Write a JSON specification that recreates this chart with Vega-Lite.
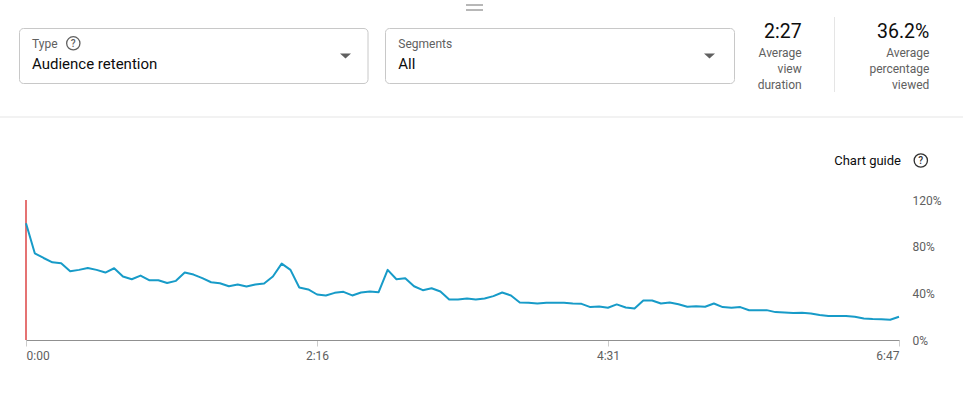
{
  "$schema": "https://vega.github.io/schema/vega-lite/v6.json",
  "width": 873,
  "height": 140,
  "autosize": {"type": "none"},
  "padding": {"left": 26, "top": 200, "right": 64, "bottom": 63},
  "background": "white",
  "config": {"view": {"stroke": null}, "font": "Roboto", "text": {"font": "Roboto"}},
  "layer": [
    {
      "data": {"values": [
        {"t":0,"r":100},{"t":4.1,"r":74.3},{"t":8.2,"r":70.3},{"t":12.3,"r":66.6},{"t":16.4,"r":65.8},
        {"t":20.6,"r":58.9},{"t":24.7,"r":60.1},{"t":28.8,"r":61.8},{"t":32.9,"r":60.1},{"t":37.0,"r":57.8},
        {"t":41.1,"r":61.5},{"t":45.2,"r":54.4},{"t":49.3,"r":52.1},{"t":53.4,"r":55.2},{"t":57.6,"r":51.2},
        {"t":61.7,"r":51.2},{"t":65.8,"r":48.8},{"t":69.9,"r":50.7},{"t":74.0,"r":57.8},{"t":78.1,"r":56.1},
        {"t":82.2,"r":53.0},{"t":86.3,"r":49.5},{"t":90.4,"r":48.7},{"t":94.6,"r":46.1},{"t":98.7,"r":47.5},
        {"t":102.8,"r":45.8},{"t":106.9,"r":47.5},{"t":111.0,"r":48.4},{"t":115.1,"r":54.4},{"t":119.2,"r":65.5},
        {"t":123.3,"r":60.1},{"t":127.4,"r":45.0},{"t":131.6,"r":43.3},{"t":135.7,"r":39.0},{"t":139.8,"r":38.2},
        {"t":143.9,"r":40.4},{"t":148.0,"r":41.3},{"t":152.1,"r":38.2},{"t":156.2,"r":40.7},{"t":160.3,"r":41.6},
        {"t":164.4,"r":41.0},{"t":168.6,"r":60.1},{"t":172.7,"r":52.1},{"t":176.8,"r":53.0},{"t":180.9,"r":46.1},
        {"t":185.0,"r":42.7},{"t":189.1,"r":44.4},{"t":193.2,"r":41.6},{"t":197.3,"r":34.7},{"t":201.4,"r":34.7},
        {"t":205.6,"r":35.6},{"t":209.7,"r":34.7},{"t":213.8,"r":35.6},{"t":217.9,"r":37.6},{"t":222.0,"r":40.7},
        {"t":226.1,"r":38.2},{"t":230.2,"r":32.2},{"t":234.3,"r":31.9},{"t":238.4,"r":31.3},{"t":242.6,"r":31.9},
        {"t":246.7,"r":31.9},{"t":250.8,"r":31.9},{"t":254.9,"r":31.3},{"t":259.0,"r":31.0},{"t":263.1,"r":28.2},
        {"t":267.2,"r":28.8},{"t":271.3,"r":27.6},{"t":275.4,"r":30.5},{"t":279.6,"r":27.9},{"t":283.7,"r":27.0},
        {"t":287.8,"r":33.9},{"t":291.9,"r":33.9},{"t":296.0,"r":31.3},{"t":300.1,"r":32.2},{"t":304.2,"r":30.7},
        {"t":308.3,"r":28.5},{"t":312.4,"r":29.0},{"t":316.6,"r":28.5},{"t":320.7,"r":31.3},{"t":324.8,"r":28.2},
        {"t":328.9,"r":27.6},{"t":333.0,"r":28.2},{"t":337.1,"r":25.5},{"t":341.2,"r":25.6},{"t":345.3,"r":25.6},
        {"t":349.4,"r":23.9},{"t":353.6,"r":23.6},{"t":357.7,"r":23.1},{"t":361.8,"r":23.3},{"t":365.9,"r":22.8},
        {"t":370.0,"r":21.4},{"t":374.1,"r":20.5},{"t":378.2,"r":20.5},{"t":382.3,"r":20.5},{"t":386.4,"r":19.9},
        {"t":390.6,"r":18.5},{"t":394.7,"r":17.9},{"t":398.8,"r":17.7},{"t":402.9,"r":17.4},{"t":407.0,"r":19.9}
      ]},
      "layer": [
        {
          "mark": {"type": "rule", "color": "#e57373", "strokeWidth": 2},
          "encoding": {
            "x": {"datum": 0, "type": "quantitative"},
            "y": {"datum": 0, "type": "quantitative"},
            "y2": {"datum": 120}
          }
        },
        {
          "mark": {"type": "line", "color": "#179bc8", "strokeWidth": 2, "strokeJoin": "round"},
          "encoding": {
            "x": {
              "field": "t", "type": "quantitative",
              "scale": {"domain": [0, 407], "nice": false, "zero": false},
              "axis": {
                "title": null, "values": [0, 135.667, 271.333, 407],
                "labelExpr": "floor(round(datum.value)/60) + ':' + (round(datum.value)%60 < 10 ? '0' : '') + (round(datum.value)%60)",
                "labelFlush": true, "grid": false, "domainColor": "#909090", "tickColor": "#cccccc",
                "tickSize": 6, "labelPadding": 4, "labelFontSize": 12, "labelColor": "#606060", "labelFont": "Roboto"
              }
            },
            "y": {
              "field": "r", "type": "quantitative",
              "scale": {"domain": [0, 120], "nice": false},
              "axis": {
                "title": null, "orient": "right", "values": [0, 40, 80, 120],
                "labelExpr": "datum.value + '%'", "domain": false, "ticks": false,
                "gridColor": "#e5e5e5", "labelPadding": 13, "labelFontSize": 12,
                "labelColor": "#606060", "labelFont": "Roboto"
              }
            }
          }
        }
      ]
    },
    {
      "data": {"values": [{}]},
      "layer": [
        {"mark": {"type": "rule", "color": "#e5e5e5", "strokeWidth": 1},
         "encoding": {"x": {"datum": 0, "type": "quantitative", "scale": {"domain": [26, 899], "nice": false, "zero": false}, "axis": null},
                      "x2": {"datum": 963},
                      "y": {"datum": 117, "type": "quantitative", "scale": {"domain": [200, 340], "nice": false, "zero": false, "reverse": true}, "axis": null}}},
        {"mark": {"type": "rule", "color": "#707070", "strokeWidth": 1},
         "encoding": {"x": {"datum": 466, "type": "quantitative", "scale": {"domain": [26, 899], "nice": false, "zero": false}, "axis": null},
                      "x2": {"datum": 483},
                      "y": {"datum": 5, "type": "quantitative", "scale": {"domain": [200, 340], "nice": false, "zero": false, "reverse": true}, "axis": null}}},
        {"mark": {"type": "rule", "color": "#707070", "strokeWidth": 1},
         "encoding": {"x": {"datum": 466, "type": "quantitative", "scale": {"domain": [26, 899], "nice": false, "zero": false}, "axis": null},
                      "x2": {"datum": 483},
                      "y": {"datum": 10, "type": "quantitative", "scale": {"domain": [200, 340], "nice": false, "zero": false, "reverse": true}, "axis": null}}},
        {"mark": {"type": "rect", "fill": "white", "stroke": "#c8c8c8", "strokeWidth": 1, "cornerRadius": 4},
         "encoding": {"x": {"datum": 19.5, "type": "quantitative", "scale": {"domain": [26, 899], "nice": false, "zero": false}, "axis": null},
                      "x2": {"datum": 368},
                      "y": {"datum": 28.5, "type": "quantitative", "scale": {"domain": [200, 340], "nice": false, "zero": false, "reverse": true}, "axis": null},
                      "y2": {"datum": 83.5}}},
        {"mark": {"type": "rect", "fill": "white", "stroke": "#c8c8c8", "strokeWidth": 1, "cornerRadius": 4},
         "encoding": {"x": {"datum": 385.5, "type": "quantitative", "scale": {"domain": [26, 899], "nice": false, "zero": false}, "axis": null},
                      "x2": {"datum": 734.5},
                      "y": {"datum": 28.5, "type": "quantitative", "scale": {"domain": [200, 340], "nice": false, "zero": false, "reverse": true}, "axis": null},
                      "y2": {"datum": 83.5}}},
        {"mark": {"type": "rule", "color": "#e5e5e5", "strokeWidth": 1},
         "encoding": {"x": {"datum": 834.5, "type": "quantitative", "scale": {"domain": [26, 899], "nice": false, "zero": false}, "axis": null},
                      "y": {"datum": 17, "type": "quantitative", "scale": {"domain": [200, 340], "nice": false, "zero": false, "reverse": true}, "axis": null},
                      "y2": {"datum": 92}}},
        {"mark": {"type": "text", "text": "Type", "fontSize": 12, "color": "#606060", "align": "left", "baseline": "alphabetic"},
         "encoding": {"x": {"datum": 32, "type": "quantitative", "scale": {"domain": [26, 899], "nice": false, "zero": false}, "axis": null},
                      "y": {"datum": 47.5, "type": "quantitative", "scale": {"domain": [200, 340], "nice": false, "zero": false, "reverse": true}, "axis": null}}},
        {"mark": {"type": "point", "shape": "circle", "size": 177, "filled": false, "stroke": "#606060", "strokeWidth": 1.3, "opacity": 1},
         "encoding": {"x": {"datum": 73.3, "type": "quantitative", "scale": {"domain": [26, 899], "nice": false, "zero": false}, "axis": null},
                      "y": {"datum": 43.3, "type": "quantitative", "scale": {"domain": [200, 340], "nice": false, "zero": false, "reverse": true}, "axis": null}}},
        {"mark": {"type": "text", "text": "?", "fontSize": 10, "fontWeight": 500, "color": "#606060", "align": "center", "baseline": "middle"},
         "encoding": {"x": {"datum": 73.3, "type": "quantitative", "scale": {"domain": [26, 899], "nice": false, "zero": false}, "axis": null},
                      "y": {"datum": 43.6, "type": "quantitative", "scale": {"domain": [200, 340], "nice": false, "zero": false, "reverse": true}, "axis": null}}},
        {"mark": {"type": "text", "text": "Audience retention", "fontSize": 15, "color": "#0d0d0d", "align": "left", "baseline": "alphabetic"},
         "encoding": {"x": {"datum": 32, "type": "quantitative", "scale": {"domain": [26, 899], "nice": false, "zero": false}, "axis": null},
                      "y": {"datum": 69, "type": "quantitative", "scale": {"domain": [200, 340], "nice": false, "zero": false, "reverse": true}, "axis": null}}},
        {"mark": {"type": "point", "shape": "M-1,-0.45L1,-0.45L0,0.45Z", "size": 121, "filled": true, "color": "#606060", "opacity": 1},
         "encoding": {"x": {"datum": 345.5, "type": "quantitative", "scale": {"domain": [26, 899], "nice": false, "zero": false}, "axis": null},
                      "y": {"datum": 56, "type": "quantitative", "scale": {"domain": [200, 340], "nice": false, "zero": false, "reverse": true}, "axis": null}}},
        {"mark": {"type": "text", "text": "Segments", "fontSize": 12, "color": "#606060", "align": "left", "baseline": "alphabetic"},
         "encoding": {"x": {"datum": 398.3, "type": "quantitative", "scale": {"domain": [26, 899], "nice": false, "zero": false}, "axis": null},
                      "y": {"datum": 47.5, "type": "quantitative", "scale": {"domain": [200, 340], "nice": false, "zero": false, "reverse": true}, "axis": null}}},
        {"mark": {"type": "text", "text": "All", "fontSize": 15, "color": "#0d0d0d", "align": "left", "baseline": "alphabetic"},
         "encoding": {"x": {"datum": 398.3, "type": "quantitative", "scale": {"domain": [26, 899], "nice": false, "zero": false}, "axis": null},
                      "y": {"datum": 69, "type": "quantitative", "scale": {"domain": [200, 340], "nice": false, "zero": false, "reverse": true}, "axis": null}}},
        {"mark": {"type": "point", "shape": "M-1,-0.45L1,-0.45L0,0.45Z", "size": 121, "filled": true, "color": "#606060", "opacity": 1},
         "encoding": {"x": {"datum": 709.5, "type": "quantitative", "scale": {"domain": [26, 899], "nice": false, "zero": false}, "axis": null},
                      "y": {"datum": 56, "type": "quantitative", "scale": {"domain": [200, 340], "nice": false, "zero": false, "reverse": true}, "axis": null}}},
        {"mark": {"type": "text", "text": "2:27", "fontSize": 19.5, "color": "#0d0d0d", "align": "right", "baseline": "alphabetic"},
         "encoding": {"x": {"datum": 801.7, "type": "quantitative", "scale": {"domain": [26, 899], "nice": false, "zero": false}, "axis": null},
                      "y": {"datum": 38.3, "type": "quantitative", "scale": {"domain": [200, 340], "nice": false, "zero": false, "reverse": true}, "axis": null}}},
        {"mark": {"type": "text", "text": ["Average", "view", "duration"], "lineHeight": 16, "fontSize": 12, "color": "#606060", "align": "right", "baseline": "alphabetic"},
         "encoding": {"x": {"datum": 801.7, "type": "quantitative", "scale": {"domain": [26, 899], "nice": false, "zero": false}, "axis": null},
                      "y": {"datum": 57.3, "type": "quantitative", "scale": {"domain": [200, 340], "nice": false, "zero": false, "reverse": true}, "axis": null}}},
        {"mark": {"type": "text", "text": "36.2%", "fontSize": 19.5, "color": "#0d0d0d", "align": "right", "baseline": "alphabetic"},
         "encoding": {"x": {"datum": 929.3, "type": "quantitative", "scale": {"domain": [26, 899], "nice": false, "zero": false}, "axis": null},
                      "y": {"datum": 38.3, "type": "quantitative", "scale": {"domain": [200, 340], "nice": false, "zero": false, "reverse": true}, "axis": null}}},
        {"mark": {"type": "text", "text": ["Average", "percentage", "viewed"], "lineHeight": 16, "fontSize": 12, "color": "#606060", "align": "right", "baseline": "alphabetic"},
         "encoding": {"x": {"datum": 929.3, "type": "quantitative", "scale": {"domain": [26, 899], "nice": false, "zero": false}, "axis": null},
                      "y": {"datum": 57.3, "type": "quantitative", "scale": {"domain": [200, 340], "nice": false, "zero": false, "reverse": true}, "axis": null}}},
        {"mark": {"type": "text", "text": "Chart guide", "fontSize": 13, "color": "#0d0d0d", "align": "right", "baseline": "alphabetic"},
         "encoding": {"x": {"datum": 901, "type": "quantitative", "scale": {"domain": [26, 899], "nice": false, "zero": false}, "axis": null},
                      "y": {"datum": 164.5, "type": "quantitative", "scale": {"domain": [200, 340], "nice": false, "zero": false, "reverse": true}, "axis": null}}},
        {"mark": {"type": "point", "shape": "circle", "size": 177, "filled": false, "stroke": "#303030", "strokeWidth": 1.3, "opacity": 1},
         "encoding": {"x": {"datum": 920.8, "type": "quantitative", "scale": {"domain": [26, 899], "nice": false, "zero": false}, "axis": null},
                      "y": {"datum": 160.5, "type": "quantitative", "scale": {"domain": [200, 340], "nice": false, "zero": false, "reverse": true}, "axis": null}}},
        {"mark": {"type": "text", "text": "?", "fontSize": 10, "fontWeight": 500, "color": "#303030", "align": "center", "baseline": "middle"},
         "encoding": {"x": {"datum": 920.8, "type": "quantitative", "scale": {"domain": [26, 899], "nice": false, "zero": false}, "axis": null},
                      "y": {"datum": 160.8, "type": "quantitative", "scale": {"domain": [200, 340], "nice": false, "zero": false, "reverse": true}, "axis": null}}}
      ]
    }
  ],
  "resolve": {"scale": {"x": "independent", "y": "independent"}}
}
